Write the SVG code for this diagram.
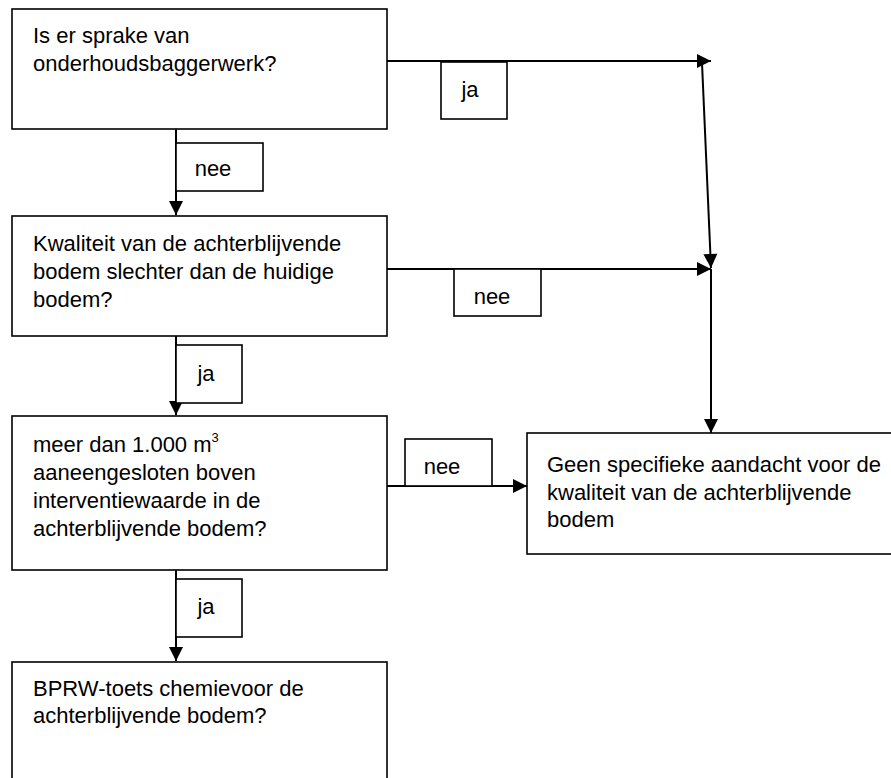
<svg xmlns="http://www.w3.org/2000/svg" width="891" height="778" viewBox="0 0 891 778">
<style>
  .box { fill: #fff; stroke: #000; stroke-width: 1.6; }
  .lbl { fill: #fff; stroke: #000; stroke-width: 1.6; }
  .t { font-family: "Liberation Sans", Arial, sans-serif; font-size: 22px; fill: #000; }
  .c { stroke: #000; stroke-width: 2; fill: none; marker-end: url(#ah); }
</style>
<defs>
  <marker id="ah" markerUnits="userSpaceOnUse" markerWidth="16" markerHeight="16" viewBox="0 0 16 16" refX="15" refY="8" orient="auto">
    <path d="M1,1 L15,8 L1,15 Z" fill="#000"/>
  </marker>
</defs>
<rect width="891" height="778" fill="#fff"/>

<g id="connectors">
  <line class="c" x1="176" y1="129" x2="176" y2="215"/>
  <line class="c" x1="387" y1="61" x2="711" y2="61"/>
  <line class="c" x1="702" y1="63" x2="711" y2="268"/>
  <line class="c" x1="387" y1="269" x2="711" y2="269"/>
  <line class="c" x1="711" y1="269" x2="711" y2="433"/>
  <line class="c" x1="176" y1="336" x2="176" y2="415"/>
  <line class="c" x1="387" y1="486" x2="527" y2="486"/>
  <line class="c" x1="176" y1="570" x2="176" y2="661"/>

  <g id="lbl-nee1"><rect class="lbl" x="176" y="143" width="87" height="48"/><text class="t" x="213" y="176" text-anchor="middle">nee</text></g>
  <g id="lbl-ja1"><rect class="lbl" x="441" y="62" width="66" height="57"/><text class="t" x="470" y="97" text-anchor="middle">ja</text></g>
  <g id="lbl-nee2"><rect class="lbl" x="454" y="269" width="87" height="47"/><text class="t" x="492" y="304" text-anchor="middle">nee</text></g>
  <g id="lbl-ja2"><rect class="lbl" x="176" y="345" width="66" height="58"/><text class="t" x="206" y="381" text-anchor="middle">ja</text></g>
  <g id="lbl-nee3"><rect class="lbl" x="405" y="439" width="87" height="47"/><text class="t" x="442" y="474" text-anchor="middle">nee</text></g>
  <g id="lbl-ja3"><rect class="lbl" x="176" y="579" width="66" height="58"/><text class="t" x="206" y="614" text-anchor="middle">ja</text></g>
</g>

<g id="n1">
  <rect class="box" x="12" y="9" width="375" height="120"/>
  <text class="t" x="33" y="43">Is er sprake van</text>
  <text class="t" x="33" y="71">onderhoudsbaggerwerk?</text>
</g>

<g id="n2">
  <rect class="box" x="12" y="216" width="375" height="120"/>
  <text class="t" x="33" y="251">Kwaliteit van de achterblijvende</text>
  <text class="t" x="33" y="279">bodem slechter dan de huidige</text>
  <text class="t" x="33" y="307">bodem?</text>
</g>

<g id="n3">
  <rect class="box" x="12" y="416" width="375" height="154"/>
  <text class="t" x="33" y="452">meer dan 1.000 m<tspan font-size="13" dy="-10">3</tspan></text>
  <text class="t" x="33" y="480">aaneengesloten boven</text>
  <text class="t" x="33" y="508">interventiewaarde in de</text>
  <text class="t" x="33" y="536">achterblijvende bodem?</text>
</g>

<g id="n4">
  <rect class="box" x="527" y="433" width="380" height="121"/>
  <text class="t" x="547" y="472">Geen specifieke aandacht voor de</text>
  <text class="t" x="547" y="500">kwaliteit van de achterblijvende</text>
  <text class="t" x="547" y="527">bodem</text>
</g>

<g id="n5">
  <rect class="box" x="12" y="662" width="375" height="130"/>
  <text class="t" x="33" y="696">BPRW-toets chemievoor de</text>
  <text class="t" x="33" y="723">achterblijvende bodem?</text>
</g>
</svg>
